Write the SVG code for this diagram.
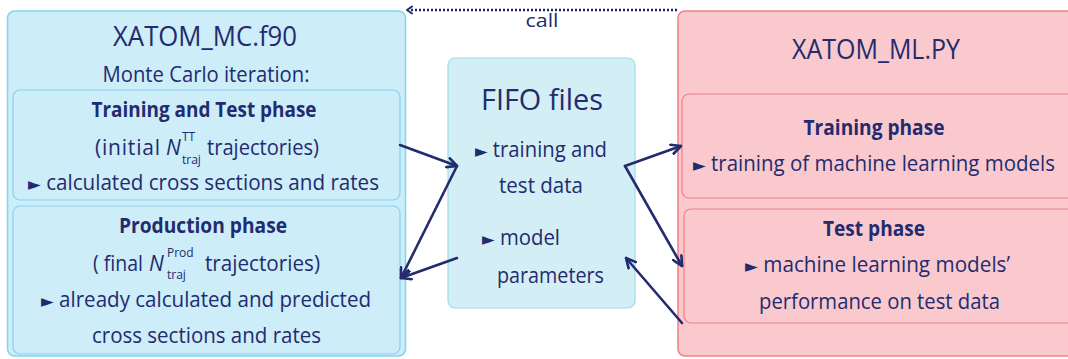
<svg xmlns="http://www.w3.org/2000/svg" width="1068" height="359" viewBox="0 0 1068 359">
<style>
text{font-family:"Open Sans","Noto Sans","Liberation Sans",sans-serif;fill:#232b6f;}
.t{font-size:27px;text-anchor:middle;}
.b{font-size:21px;font-weight:bold;text-anchor:middle;}
.n{font-size:21px;}
.s{font-size:12px;}
.bl{font-family:"DejaVu Sans",sans-serif;font-size:17px;}
.blueO{fill:#cdedf8;stroke:#85d3f0;stroke-width:1.5;}
.blueI{fill:#cdedf8;stroke:#85d3f0;stroke-width:1.2;}
.mid{fill:#d3eff5;stroke:#9fdbe8;stroke-width:1.2;}
.redO{fill:#f9c9cd;stroke:#ef7f87;stroke-width:1.5;}
.redI{fill:#f9c9cd;stroke:#ef7f87;stroke-width:1.2;}
.c{fill:none;stroke:#232b6f;stroke-width:2.6;stroke-linecap:round;}
</style>
<defs>
<marker id="ah" viewBox="0 0 10 10" refX="9" refY="5" markerWidth="12" markerHeight="12" markerUnits="userSpaceOnUse" orient="auto">
<path d="M1,1 L9,5 L1,9" fill="none" stroke="#232b6f" stroke-width="2.2" stroke-linecap="round" stroke-linejoin="round"/>
</marker>
</defs>

<g id="mc">
<rect class="blueO" x="7.5" y="11" width="398" height="345" rx="7"/>
<text class="t" x="205" y="46" textLength="184" lengthAdjust="spacingAndGlyphs">XATOM_MC.f90</text>
<text class="n" x="206" y="82" text-anchor="middle" textLength="207" lengthAdjust="spacingAndGlyphs">Monte Carlo iteration:</text>
</g>

<g id="mc-train">
<rect class="blueI" x="13" y="90" width="387" height="110" rx="7"/>
<text class="b" x="204" y="117" textLength="225" lengthAdjust="spacingAndGlyphs">Training and Test phase</text>
<text class="n" x="95" y="155" letter-spacing="0.8">(initial</text>
<text class="n" x="166" y="155" font-style="italic">N</text>
<text class="s" x="182" y="141">TT</text>
<text class="s" x="182" y="164">traj</text>
<text class="n" x="207" y="155" textLength="112" lengthAdjust="spacingAndGlyphs">trajectories)</text>
<text class="n" x="28" y="190" textLength="351" lengthAdjust="spacingAndGlyphs"><tspan class="bl">►</tspan> calculated cross sections and rates</text>
</g>

<g id="mc-prod">
<rect class="blueI" x="13" y="206" width="387" height="148" rx="7"/>
<text class="b" x="203" y="233" textLength="168" lengthAdjust="spacingAndGlyphs">Production phase</text>
<text class="n" x="93" y="271" textLength="50" lengthAdjust="spacingAndGlyphs">( final</text>
<text class="n" x="149" y="271" font-style="italic">N</text>
<text class="s" x="167" y="257">Prod</text>
<text class="s" x="167" y="279">traj</text>
<text class="n" x="205" y="271" textLength="115" lengthAdjust="spacingAndGlyphs">trajectories)</text>
<text class="n" x="41" y="307" textLength="330" lengthAdjust="spacingAndGlyphs"><tspan class="bl">►</tspan> already calculated and predicted</text>
<text class="n" x="92" y="343" textLength="229" lengthAdjust="spacingAndGlyphs">cross sections and rates</text>
</g>

<g id="fifo">
<rect class="mid" x="448" y="58" width="187" height="250" rx="7"/>
<text x="481" y="110" font-size="29" textLength="122" lengthAdjust="spacingAndGlyphs">FIFO files</text>
<text class="n" x="475" y="157" textLength="132" lengthAdjust="spacingAndGlyphs"><tspan class="bl">►</tspan> training and</text>
<text class="n" x="499" y="193" textLength="84" lengthAdjust="spacingAndGlyphs">test data</text>
<text class="n" x="482" y="245" textLength="78" lengthAdjust="spacingAndGlyphs"><tspan class="bl">►</tspan> model</text>
<text class="n" x="497" y="283" textLength="107" lengthAdjust="spacingAndGlyphs">parameters</text>
</g>

<g id="ml">
<rect class="redO" x="678" y="11" width="400" height="345" rx="7"/>
<text class="t" x="876" y="59" textLength="168" lengthAdjust="spacingAndGlyphs">XATOM_ML.PY</text>
</g>

<g id="ml-train">
<rect class="redI" x="682" y="94" width="400" height="104" rx="7"/>
<text class="b" x="874" y="135" textLength="141" lengthAdjust="spacingAndGlyphs">Training phase</text>
<text class="n" x="693" y="171" textLength="362" lengthAdjust="spacingAndGlyphs"><tspan class="bl">►</tspan> training of machine learning models</text>
</g>

<g id="ml-test">
<rect class="redI" x="684" y="209" width="400" height="114" rx="7"/>
<text class="b" x="874" y="236" textLength="102" lengthAdjust="spacingAndGlyphs">Test phase</text>
<text class="n" x="745" y="272" textLength="265" lengthAdjust="spacingAndGlyphs"><tspan class="bl">►</tspan> machine learning models’</text>
<text class="n" x="759" y="309" textLength="241" lengthAdjust="spacingAndGlyphs">performance on test data</text>
</g>

<g id="connectors">
<line x1="677" y1="10" x2="410" y2="10" fill="none" stroke="#1c2466" stroke-width="2.6" stroke-dasharray="2 2"/>
<path d="M412,6.5 L407,10 L412,13.5" fill="none" stroke="#232b6f" stroke-width="2" stroke-linecap="round" stroke-linejoin="round"/>
<text x="542" y="27" font-size="19" text-anchor="middle" textLength="33" lengthAdjust="spacingAndGlyphs">call</text>
<line class="c" x1="400" y1="145" x2="457" y2="166" marker-end="url(#ah)"/>
<line class="c" x1="457" y1="166" x2="401" y2="278" marker-end="url(#ah)"/>
<line class="c" x1="457" y1="258" x2="401" y2="278" marker-end="url(#ah)"/>
<line class="c" x1="625" y1="166" x2="681" y2="146" marker-end="url(#ah)"/>
<line class="c" x1="625" y1="166" x2="682" y2="266" marker-end="url(#ah)"/>
<line class="c" x1="682" y1="323" x2="626" y2="258" marker-end="url(#ah)"/>
</g>
</svg>
